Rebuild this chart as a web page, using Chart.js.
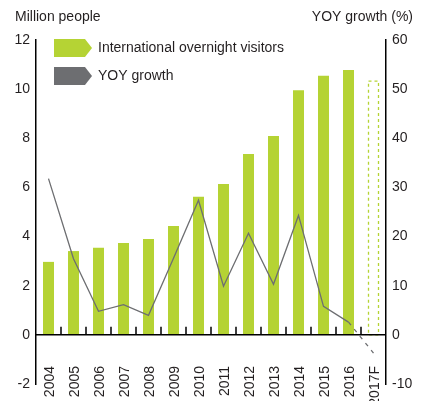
<!DOCTYPE html>
<html>
<head>
<meta charset="utf-8">
<script src="https://cdn.jsdelivr.net/npm/chart.js@4.4.1/dist/chart.umd.min.js"></script>
<style>
  html, body { margin: 0; padding: 0; background: #fff; }
  #wrap { width: 422px; height: 401px; position: relative; }
</style>
</head>
<body>
<div id="wrap"><canvas id="grafico"></canvas></div>
<script>
// Visitantes e crescimento anual
var anos = ["2004","2005","2006","2007","2008","2009","2010","2011","2012","2013","2014","2015","2016","2017F"];
var visitantes = [2.97,3.41,3.54,3.74,3.90,4.43,5.62,6.14,7.36,8.09,9.96,10.55,10.78,10.33];
var crescimento = [31.8,15.5,4.8,6.15,3.97,15.6,27.4,9.9,20.7,10.3,24.3,5.8,2.6,-3.7];
var ticksEsq = [-2,0,2,4,6,8,10,12];
var ticksDir = [-10,0,10,20,30,40,50,60];

var verde = '#b5d334';
var cinza = '#6d6e71';
var texto = '#231f20';
var fonte = "'Liberation Sans', Arial, sans-serif";
var ultimo = anos.length - 1;

// barra tracejada, linha do zero, rotulos dos anos, legenda e titulos
const extras = {
  id: 'extras',
  afterDatasetsDraw(chart) {
    const c = chart.ctx;
    const x = chart.scales.x;
    const y = chart.scales.y;
    const area = chart.chartArea;
    const zero = y.getPixelForValue(0);

    // barra da previsao, tracejada
    const barra = chart.getDatasetMeta(1).data[ultimo];
    c.save();
    c.strokeStyle = verde;
    c.lineWidth = 1.3;
    c.setLineDash([3, 3]);
    c.strokeRect(barra.x - barra.width / 2 + 0.5, barra.y, barra.width - 1, barra.base - barra.y);
    c.restore();

    // linha do zero e marquinhas entre categorias
    c.save();
    c.strokeStyle = '#000';
    c.lineWidth = 1.5;
    c.beginPath();
    c.moveTo(area.left, zero);
    c.lineTo(area.right, zero);
    for (let i = 0; i < anos.length - 1; i++) {
      const px = (x.getPixelForValue(i) + x.getPixelForValue(i + 1)) / 2;
      c.moveTo(px, zero);
      c.lineTo(px, zero - 8);
    }
    c.stroke();
    c.restore();
  },
  afterDraw(chart) {
    const c = chart.ctx;
    const x = chart.scales.x;
    c.save();
    c.fillStyle = texto;

    // anos na vertical, acima do -2
    c.font = '14px ' + fonte;
    c.textAlign = 'right';
    c.textBaseline = 'middle';
    chart.data.labels.forEach(function (lab, i) {
      c.save();
      c.translate(x.getPixelForValue(i) + 1.5, 366);
      c.rotate(-Math.PI / 2);
      c.fillText(lab, 0, 0);
      c.restore();
    });

    c.textAlign = 'left';
    c.fillText('Million people', 15, 17);
    c.textAlign = 'right';
    c.fillText('YOY growth (%)', 413, 17);

    const itens = [
      { cor: verde, txt: chart.data.datasets[1].label, y: 39 },
      { cor: cinza, txt: chart.data.datasets[0].label, y: 67 }
    ];
    itens.forEach(function (it) {
      c.fillStyle = it.cor;
      c.beginPath();
      c.moveTo(54, it.y);
      c.lineTo(85, it.y);
      c.lineTo(92, it.y + 9);
      c.lineTo(85, it.y + 18);
      c.lineTo(54, it.y + 18);
      c.closePath();
      c.fill();
      c.fillStyle = texto;
      c.textAlign = 'left';
      c.fillText(it.txt, 98, it.y + 9);
    });
    c.restore();
  }
};

new Chart(document.getElementById('grafico'), {
  type: 'bar',
  data: {
    labels: anos,
    datasets: [
      {
        type: 'line',
        label: 'YOY growth',
        data: crescimento,
        yAxisID: 'y1',
        borderColor: cinza,
        borderWidth: 1.3,
        pointRadius: 0,
        tension: 0,
        order: 0,
        segment: {
          borderDash: ctx => ctx.p1DataIndex === ultimo ? [4, 5] : undefined
        }
      },
      {
        label: 'International overnight visitors',
        data: visitantes,
        yAxisID: 'y',
        backgroundColor: anos.map((a, i) => i === ultimo ? 'rgba(0,0,0,0)' : verde),
        borderWidth: 0,
        barPercentage: 0.44,
        categoryPercentage: 1,
        order: 1
      }
    ]
  },
  options: {
    responsive: true,
    maintainAspectRatio: false,
    animation: false,
    layout: { padding: { top: 40, left: 0, right: 0, bottom: 0 } },
    plugins: {
      legend: { display: false },
      tooltip: { enabled: false }
    },
    scales: {
      x: {
        grid: { display: false, drawTicks: false },
        border: { display: false },
        ticks: { display: false },
        afterFit: s => { s.height = 17; }
      },
      y: {
        position: 'left',
        min: -2,
        max: 12,
        afterBuildTicks: s => { s.ticks = ticksEsq.map(v => ({ value: v })); },
        grid: { display: false, drawTicks: false },
        border: { display: true, color: '#000', width: 1.5 },
        ticks: {
          padding: 6,
          color: texto,
          font: { family: fonte, size: 14 }
        },
        afterFit: s => { s.width = 36; }
      },
      y1: {
        position: 'right',
        min: -10,
        max: 60,
        afterBuildTicks: s => { s.ticks = ticksDir.map(v => ({ value: v })); },
        grid: { display: false, drawTicks: false },
        border: { display: true, color: '#000', width: 1.5 },
        ticks: {
          padding: 6,
          color: texto,
          font: { family: fonte, size: 14 }
        },
        afterFit: s => { s.width = 36; }
      }
    }
  },
  plugins: [extras]
});
</script>
</body>
</html>
